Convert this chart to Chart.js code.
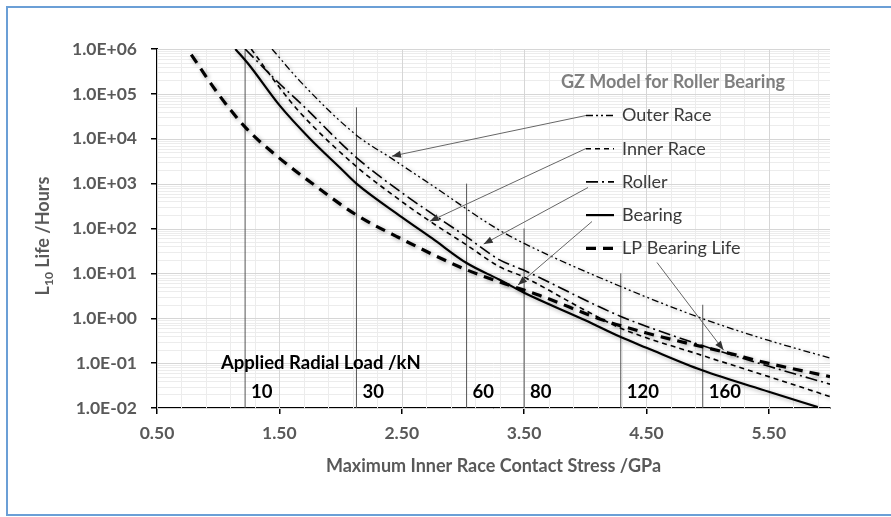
<!DOCTYPE html>
<html>
<head>
<meta charset="utf-8">
<script src="https://cdn.jsdelivr.net/npm/chart.js@4.4.1/dist/chart.umd.min.js"></script>
<style>
  html, body { margin: 0; padding: 0; background: #fff; }
  #wrap { position: relative; width: 891px; height: 517px; }
  #frame { position: absolute; left: 6px; top: 6px; width: 900px; height: 510px; box-sizing: border-box;
           border: 2px solid #6b9fd6; pointer-events: none; }
</style>
</head>
<body>
<div id="wrap"><canvas id="c"></canvas><div id="frame"></div></div>
<script>
// L10 life against max inner race contact stress

const seriesNames = ["Outer Race", "Inner Race", "Roller", "Bearing", "LP Bearing Life"];

const outerStress = [1.44, 1.67, 2.13, 2.42, 2.76, 3.25, 3.49, 4.29, 4.95, 5.5, 6.0];
const outerLife = [1e6, 1.9e5, 1.2e4, 3.6e3, 870, 110, 48, 5.1, 1.0, 0.32, 0.13];

const innerStress = [1.27, 1.5, 1.67, 2.13, 2.5, 2.73, 3.03, 3.3, 3.49, 4.0, 4.29, 4.95, 5.5, 6.0];
const innerLife = [1e6, 1.4e5, 3.8e4, 2.4e3, 400, 145, 43, 14, 8.5, 1.5, 0.6, 0.15, 0.05, 0.018];

const rollerStress = [1.22, 1.5, 1.67, 2.13, 2.5, 3.03, 3.3, 3.49, 4.29, 4.95, 5.5, 6.0];
const rollerLife = [1e6, 1.7e5, 6.3e4, 3.8e3, 630, 65, 20, 12, 1.1, 0.25, 0.085, 0.034];

const bearingStress = [1.14, 1.25, 1.5, 1.75, 2.0, 2.13, 2.5, 2.75, 3.03, 3.3, 3.5, 4.0, 4.29, 4.5, 4.95, 5.5, 5.9];
const bearingLife = [1e6, 4.5e5, 5.6e4, 1e4, 2.2e3, 1e3, 180, 60, 17, 7.2, 3.7, 0.9, 0.38, 0.22, 0.07, 0.023, 0.0105];

const lpStress = [0.78, 1.0, 1.23, 1.5, 1.75, 2.13, 2.46, 3.03, 3.41, 3.63, 4.15, 4.5, 5.16, 5.49, 6.0];
const lpLife = [7.5e5, 1e5, 1.7e4, 3.7e3, 1.1e3, 200, 66, 12, 5.1, 3.2, 0.9, 0.47, 0.17, 0.1, 0.05];

// applied radial load markers
const loadKN = [10, 30, 60, 80, 120, 160];
const loadStress = [1.22, 2.13, 3.03, 3.50, 4.29, 4.96];
const loadTopLife = [1e6, 5e4, 1e3, 100, 10, 2];

const stressTicks = [0.5, 1.5, 2.5, 3.5, 4.5, 5.5];
const lifeTicks = [1e-2, 1e-1, 1, 10, 1e2, 1e3, 1e4, 1e5, 1e6];

const pts = (xs, ys) => xs.map((x, i) => ({ x, y: ys[i] }));

const lineStyles = [
  { width: 1.3, dash: [7, 3, 2, 3, 2, 3] },
  { width: 1.6, dash: [5, 4] },
  { width: 1.6, dash: [12, 4, 2, 4] },
  { width: 2.2, dash: [] },
  { width: 3.2, dash: [10, 7] }
];
const curveData = [
  pts(outerStress, outerLife),
  pts(innerStress, innerLife),
  pts(rollerStress, rollerLife),
  pts(bearingStress, bearingLife),
  pts(lpStress, lpLife)
];

const datasets = curveData.map((d, i) => ({
  label: seriesNames[i],
  data: d,
  borderColor: "#000",
  borderWidth: lineStyles[i].width,
  borderDash: lineStyles[i].dash,
  pointRadius: 0,
  fill: false,
  cubicInterpolationMode: "monotone",
  curve: true
}));
loadStress.forEach((s, i) => {
  datasets.push({
    label: loadKN[i] + " kN",
    data: [{ x: s, y: 0.01 }, { x: s, y: loadTopLife[i] }],
    borderColor: "#555",
    borderWidth: 1,
    pointRadius: 0,
    fill: false
  });
});

const gray = "#595959";
const FONT = "Lato, 'Open Sans', sans-serif";

function seg(ctx, x0, y0, x1, y1) {
  ctx.beginPath(); ctx.moveTo(x0, y0); ctx.lineTo(x1, y1); ctx.stroke();
}

function arrow(ctx, x0, y0, x1, y1) {
  seg(ctx, x0, y0, x1, y1);
  const a = Math.atan2(y1 - y0, x1 - x0), L = 9, W = 3.5;
  ctx.beginPath();
  ctx.moveTo(x1, y1);
  ctx.lineTo(x1 - L * Math.cos(a) + W * Math.sin(a), y1 - L * Math.sin(a) - W * Math.cos(a));
  ctx.lineTo(x1 - L * Math.cos(a) - W * Math.sin(a), y1 - L * Math.sin(a) + W * Math.cos(a));
  ctx.closePath(); ctx.fill();
}

// arrow tails sit next to the legend (offsets from chart area corner), heads point at the curves
const arrowTails = [[429, 66.5], [429, 99.5], [431, 138.5], [435, 172.5], [500, 213.5]];
const arrowHeads = [[2.42, 4.1e3], [2.73, 145], [3.17, 45], [3.45, 5.5], [5.13, 0.195]];

const excelPlugin = {
  id: "excel",
  beforeDatasetsDraw(chart) {
    const { ctx, chartArea: a, scales: { x, y } } = chart;
    ctx.save();
    ctx.lineWidth = 1;
    ctx.strokeStyle = "#ececec";
    for (let d = -2; d < 6; d++) {
      for (let k = 2; k <= 9; k++) {
        const py = Math.round(y.getPixelForValue(k * Math.pow(10, d))) + 0.5;
        seg(ctx, a.left, py, a.right, py);
      }
    }
    for (let i = 1; i <= 27; i++) {
      const px = Math.round(x.getPixelForValue(0.5 + i * 0.2)) + 0.5;
      seg(ctx, px, a.top, px, a.bottom);
    }
    ctx.strokeStyle = "#d6d6d6";
    lifeTicks.forEach(v => {
      const py = Math.round(y.getPixelForValue(v)) + 0.5;
      seg(ctx, a.left, py, a.right, py);
    });
    stressTicks.forEach(v => {
      const px = Math.round(x.getPixelForValue(v)) + 0.5;
      seg(ctx, px, a.top, px, a.bottom);
    });
    ctx.restore();
  },
  beforeDatasetDraw(chart, args) {
    const ctx = chart.ctx;
    ctx.save();
    if (args.meta._dataset.curve) {
      ctx.shadowColor = "rgba(0,0,0,0.35)";
      ctx.shadowBlur = 4;
      ctx.shadowOffsetX = 1.5;
      ctx.shadowOffsetY = 1.5;
    }
  },
  afterDatasetDraw(chart) {
    chart.ctx.restore();
  },
  afterDatasetsDraw(chart) {
    const { ctx, chartArea: a, scales: { x, y } } = chart;
    ctx.save();

    // load labels
    ctx.fillStyle = "#000";
    ctx.textBaseline = "middle";
    ctx.font = "bold 18.5px " + FONT;
    ctx.textAlign = "left";
    ctx.fillText("Applied Radial Load /kN", a.left + 64, y.getPixelForValue(0.1));
    loadKN.forEach((kn, i) => {
      ctx.fillText(String(kn), x.getPixelForValue(loadStress[i]) + 6, a.bottom - 16);
    });

    // legend
    ctx.textAlign = "center";
    ctx.fillStyle = "#7f7f7f";
    ctx.font = "bold 18px " + FONT;
    ctx.fillText("GZ Model for Roller Bearing", a.left + 516, a.top + 33.5);
    ctx.textAlign = "left";
    ctx.font = "18px " + FONT;
    seriesNames.forEach((name, i) => {
      const ry = a.top + 66.5 + i * 33.2;
      ctx.strokeStyle = "#000";
      ctx.lineWidth = lineStyles[i].width;
      ctx.setLineDash(lineStyles[i].dash);
      seg(ctx, a.left + 429, ry, a.left + 457, ry);
      ctx.setLineDash([]);
      ctx.fillStyle = "#3a3a3a";
      ctx.fillText(name, a.left + 465, ry);
    });

    // annotation arrows
    ctx.strokeStyle = "#666";
    ctx.fillStyle = "#333";
    ctx.lineWidth = 1;
    arrowHeads.forEach((h, i) => {
      const t = arrowTails[i];
      arrow(ctx, a.left + t[0], a.top + t[1], x.getPixelForValue(h[0]), y.getPixelForValue(h[1]));
    });

    // axis titles
    ctx.fillStyle = gray;
    ctx.textAlign = "center";
    ctx.font = "bold 18px " + FONT;
    ctx.fillText("Maximum Inner Race Contact Stress /GPa", (a.left + a.right) / 2, 466);

    ctx.translate(43, 236);
    ctx.rotate(-Math.PI / 2);
    ctx.textAlign = "left";
    ctx.textBaseline = "alphabetic";
    const big = "bold 18px " + FONT, small = "bold 12px " + FONT;
    ctx.font = big; const wL = ctx.measureText("L").width;
    const wRest = ctx.measureText(" Life /Hours").width;
    ctx.font = small; const wSub = ctx.measureText("10").width;
    let cx = -(wL + wSub + wRest) / 2;
    ctx.font = big; ctx.fillText("L", cx, 6); cx += wL;
    ctx.font = small; ctx.fillText("10", cx, 10); cx += wSub;
    ctx.font = big; ctx.fillText(" Life /Hours", cx, 6);
    ctx.restore();
  }
};

function fmtExp(v) {
  const e = Math.round(Math.log10(v));
  return "1.0E" + (e < 0 ? "-" : "+") + String(Math.abs(e)).padStart(2, "0");
}

new Chart(document.getElementById("c"), {
  type: "line",
  data: { datasets },
  options: {
    responsive: true,
    maintainAspectRatio: false,
    animation: false,
    layout: { padding: { top: 49, right: 61, left: 0, bottom: 0 } },
    plugins: { legend: { display: false }, tooltip: { enabled: false } },
    scales: {
      x: {
        type: "linear",
        min: 0.5,
        max: 6.0,
        afterBuildTicks: s => { s.ticks = stressTicks.map(v => ({ value: v })); },
        afterFit: s => { s.height = 109; },
        ticks: {
          autoSkip: false,
          maxRotation: 0,
          padding: 9,
          color: gray,
          font: { family: FONT, weight: "bold", size: 17.5 },
          callback: v => Number(v).toFixed(2)
        },
        grid: { drawOnChartArea: false, color: "#000", tickLength: 6, lineWidth: 1.5 },
        border: { color: "#000", width: 2 }
      },
      y: {
        type: "logarithmic",
        min: 0.01,
        max: 1e6,
        afterBuildTicks: s => { s.ticks = lifeTicks.map(v => ({ value: v })); },
        afterFit: s => { s.width = 157; },
        ticks: {
          autoSkip: false,
          padding: 14,
          color: gray,
          font: { family: FONT, weight: "bold", size: 17.5 },
          callback: v => fmtExp(v)
        },
        grid: { drawOnChartArea: false, color: "#000", tickLength: 6, lineWidth: 1.5 },
        border: { color: "#000", width: 2 }
      }
    }
  },
  plugins: [excelPlugin]
});
</script>
</body>
</html>
